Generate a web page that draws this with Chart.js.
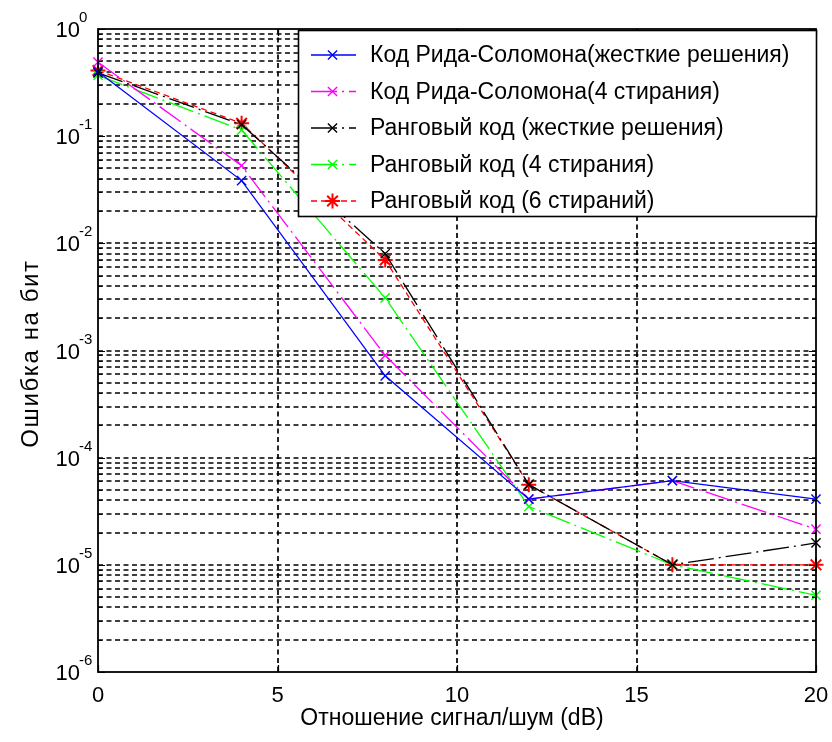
<!DOCTYPE html>
<html>
<head>
<meta charset="utf-8">
<script src="https://cdn.jsdelivr.net/npm/chart.js@4.4.1/dist/chart.umd.min.js"></script>
<style>
  html, body { margin: 0; padding: 0; background: #ffffff; }
  #wrap { width: 832px; height: 742px; }
</style>
</head>
<body>
<div id="wrap"><canvas id="ber" width="832" height="742"></canvas></div>
<script>
// Signal-to-noise ratio, dB
const snr = [0, 4, 8, 12, 16, 20];

// Bit error rate for each decoding scheme
const rsHard     = [0.40, 0.0385, 5.8e-4, 4.1e-5, 6.1e-5, 4.1e-5];
const rsErase4   = [0.49, 0.053, 9.0e-4, 4.1e-5, 6.1e-5, 2.15e-5];
const rankHard   = [0.39, 0.128, 8.0e-3, 5.6e-5, 1.0e-5, 1.6e-5];
const rankErase4 = [0.37, 0.114, 3.1e-3, 3.5e-5, 1.0e-5, 5.2e-6];
const rankErase6 = [0.41, 0.132, 7.0e-3, 5.6e-5, 1.0e-5, 1.0e-5];

const seriesLabels = [
  'Код Рида-Соломона(жесткие решения)',
  'Код Рида-Соломона(4 стирания)',
  'Ранговый код (жесткие решения)',
  'Ранговый код (4 стирания)',
  'Ранговый код (6 стираний)'
];

// Axis ticks
const xTicks = [0, 5, 10, 15, 20];
const yDecades = [-6, -5, -4, -3, -2, -1, 0];

const FONT = '"Liberation Sans", Arial, sans-serif';
const DASH_DOT = [26, 5, 2, 5];
const DASHED = [6, 4];

function series(values) {
  return values.map((v, i) => ({ x: snr[i], y: v }));
}

function makeSet(label, values, color, dash, marker) {
  return {
    label,
    data: series(values),
    borderColor: color,
    backgroundColor: color,
    borderWidth: 1.3,
    borderDash: dash,
    pointStyle: marker,
    pointRadius: marker === 'star' ? 7.5 : 6.5,
    pointBorderColor: color,
    pointBackgroundColor: color,
    pointBorderWidth: marker === 'star' ? 2 : 1.4,
    pointHoverRadius: 6,
    tension: 0,
    clip: false,
    fill: false
  };
}

// All minor/major log grid positions: 1..9 x 10^k
function logGridValues() {
  const vals = [];
  for (let k = yDecades[0]; k < yDecades[yDecades.length - 1]; k++) {
    for (let m = 1; m <= 9; m++) vals.push(Number((m * Math.pow(10, k)).toPrecision(3)));
  }
  vals.push(Math.pow(10, yDecades[yDecades.length - 1]));
  return vals;
}

function drawMarker(ctx, style, x, y, r, color, lw) {
  ctx.save();
  ctx.strokeStyle = color;
  ctx.lineWidth = lw;
  ctx.setLineDash([]);
  ctx.beginPath();
  const d = r * Math.SQRT1_2;
  ctx.moveTo(x - d, y - d); ctx.lineTo(x + d, y + d);
  ctx.moveTo(x - d, y + d); ctx.lineTo(x + d, y - d);
  if (style === 'star') {
    ctx.moveTo(x, y - r); ctx.lineTo(x, y + r);
    ctx.moveTo(x - r, y); ctx.lineTo(x + r, y);
  }
  ctx.stroke();
  ctx.restore();
}

// MATLAB-style frame: dashed grid, box, inward ticks, labels and legend
const matlabFrame = {
  id: 'matlabFrame',
  beforeDatasetsDraw(chart) {
    const { ctx, chartArea: a, scales: { x, y } } = chart;
    ctx.save();
    ctx.strokeStyle = '#000000';
    ctx.lineWidth = 1.7;
    ctx.setLineDash([5, 3.5]);
    y.ticks.forEach(t => {
      const py = Math.round(y.getPixelForValue(t.value));
      if (py <= a.top + 1 || py >= a.bottom - 1) return;
      ctx.beginPath(); ctx.moveTo(a.left, py); ctx.lineTo(a.right, py); ctx.stroke();
    });
    x.ticks.forEach(t => {
      const px = Math.round(x.getPixelForValue(t.value));
      if (px <= a.left + 1 || px >= a.right - 1) return;
      ctx.beginPath(); ctx.moveTo(px, a.top); ctx.lineTo(px, a.bottom); ctx.stroke();
    });
    ctx.restore();
  },
  afterDatasetsDraw(chart) {
    const { ctx, chartArea: a, scales: { x, y } } = chart;
    ctx.save();
    ctx.setLineDash([]);

    // plot box
    ctx.strokeStyle = '#000000';
    ctx.lineWidth = 1.8;
    ctx.strokeRect(a.left, a.top, a.right - a.left, a.bottom - a.top);

    // inward tick marks
    ctx.lineWidth = 1.2;
    y.ticks.forEach(t => {
      const py = Math.round(y.getPixelForValue(t.value)) + 0.5;
      const len = Math.abs(Math.log10(t.value) - Math.round(Math.log10(t.value))) < 1e-9 ? 7 : 4;
      ctx.beginPath();
      ctx.moveTo(a.left, py); ctx.lineTo(a.left + len, py);
      ctx.moveTo(a.right, py); ctx.lineTo(a.right - len, py);
      ctx.stroke();
    });
    x.ticks.forEach(t => {
      const px = Math.round(x.getPixelForValue(t.value)) + 0.5;
      ctx.beginPath();
      ctx.moveTo(px, a.bottom); ctx.lineTo(px, a.bottom - 7);
      ctx.moveTo(px, a.top); ctx.lineTo(px, a.top + 7);
      ctx.stroke();
    });

    // tick labels
    ctx.fillStyle = '#000000';
    ctx.textBaseline = 'middle';
    ctx.textAlign = 'center';
    ctx.font = '22px ' + FONT;
    x.ticks.forEach(t => {
      ctx.fillText(String(t.value), x.getPixelForValue(t.value), a.bottom + 24);
    });
    yDecades.forEach(k => {
      const py = y.getPixelForValue(Math.pow(10, k));
      ctx.font = '22px ' + FONT;
      ctx.textAlign = 'right';
      ctx.textBaseline = 'middle';
      ctx.fillText('10', a.left - 18, py + 2);
      ctx.font = '15px ' + FONT;
      ctx.textAlign = 'left';
      ctx.textBaseline = 'alphabetic';
      ctx.fillText(k === 0 ? '0' : '-' + Math.abs(k), a.left - 19, py - 7);
    });

    // axis titles
    ctx.font = '23px ' + FONT;
    ctx.textAlign = 'center';
    ctx.textBaseline = 'middle';
    ctx.fillText('Отношение сигнал/шум (dB)', (a.left + a.right) / 2 - 5, a.bottom + 47);
    ctx.save();
    ctx.font = '24px ' + FONT;
    if ('letterSpacing' in ctx) ctx.letterSpacing = '1.6px';
    ctx.translate(31, (a.top + a.bottom) / 2 + 3);
    ctx.rotate(-Math.PI / 2);
    ctx.fillText('Ошибка на бит', 0, 0);
    ctx.restore();

    // legend
    const lx = 298, ly = 30, lw = 519, lh = 187;
    ctx.fillStyle = '#ffffff';
    ctx.fillRect(lx, ly, lw, lh);
    ctx.strokeStyle = '#000000';
    ctx.lineWidth = 1.6;
    ctx.strokeRect(lx + 0.5, ly + 0.5, lw - 1, lh - 1);
    chart.data.datasets.forEach((ds, i) => {
      const ey = ly + 25 + i * 36.5;
      ctx.save();
      ctx.strokeStyle = ds.borderColor;
      ctx.lineWidth = 1.3;
      ctx.setLineDash(ds.borderDash || []);
      ctx.beginPath(); ctx.moveTo(311, ey); ctx.lineTo(356, ey); ctx.stroke();
      ctx.restore();
      drawMarker(ctx, ds.pointStyle, 332.5, ey, ds.pointRadius, ds.borderColor, ds.pointBorderWidth);
      ctx.fillStyle = '#000000';
      ctx.font = '23px ' + FONT;
      ctx.textAlign = 'left';
      ctx.textBaseline = 'middle';
      ctx.fillText(ds.label, 370, ey + 1);
    });
    ctx.restore();
  }
};

new Chart(document.getElementById('ber'), {
  type: 'line',
  data: {
    datasets: [
      makeSet(seriesLabels[0], rsHard, '#0000ff', [], 'crossRot'),
      makeSet(seriesLabels[1], rsErase4, '#ff00ff', DASH_DOT, 'crossRot'),
      makeSet(seriesLabels[2], rankHard, '#000000', DASH_DOT, 'crossRot'),
      makeSet(seriesLabels[3], rankErase4, '#00ff00', DASH_DOT, 'crossRot'),
      makeSet(seriesLabels[4], rankErase6, '#ff0000', DASHED, 'star')
    ]
  },
  options: {
    responsive: false,
    animation: false,
    devicePixelRatio: 1,
    layout: { padding: { left: 0, right: 16, top: 29, bottom: 0 } },
    plugins: { legend: { display: false }, tooltip: { enabled: false } },
    events: [],
    scales: {
      x: {
        type: 'linear',
        min: xTicks[0],
        max: xTicks[xTicks.length - 1],
        afterBuildTicks: s => { s.ticks = xTicks.map(v => ({ value: v })); },
        afterFit: s => { s.height = 70; },
        ticks: { display: false },
        grid: { display: false },
        border: { display: false }
      },
      y: {
        type: 'logarithmic',
        min: Math.pow(10, yDecades[0]),
        max: Math.pow(10, yDecades[yDecades.length - 1]),
        afterBuildTicks: s => { s.ticks = logGridValues().map(v => ({ value: v })); },
        afterFit: s => { s.width = 98; },
        ticks: { display: false },
        grid: { display: false },
        border: { display: false }
      }
    }
  },
  plugins: [matlabFrame]
});
</script>
</body>
</html>
